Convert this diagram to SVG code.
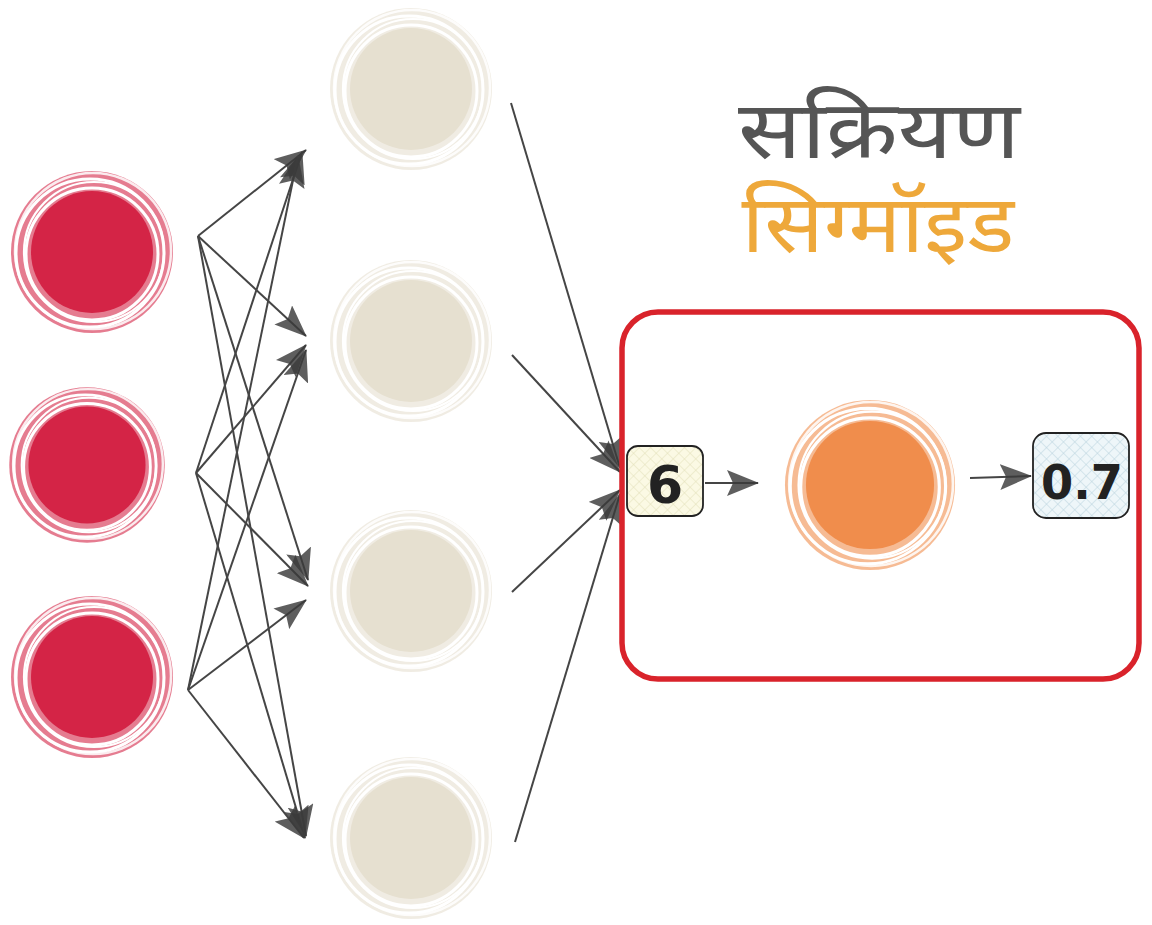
<svg xmlns="http://www.w3.org/2000/svg" xmlns:xlink="http://www.w3.org/1999/xlink" width="1152" height="925" viewBox="0 0 1152 925">
<style>
.conn{stroke:#454545;stroke-width:2;fill:none;marker-end:url(#ah);}
.title{font-family:"Noto Sans","Noto Sans Devanagari","DejaVu Sans",sans-serif;text-anchor:middle;}
.num{font-family:"DejaVu Sans","Liberation Sans",sans-serif;font-weight:bold;fill:#222;text-anchor:middle;}
.box{stroke:#222;stroke-width:1.8;}
</style>
<defs>
<marker id="ah" viewBox="0 0 32 26" refX="31" refY="13" markerWidth="32" markerHeight="26" markerUnits="userSpaceOnUse" orient="auto">
<path d="M0,0 L32,13 L0,26 L6,13 z" fill="#3a3a3a" fill-opacity="0.82"/>
</marker>
<pattern id="hatchY" width="8" height="8" patternUnits="userSpaceOnUse" patternTransform="rotate(45)">
<rect width="8" height="8" fill="#fbf9e4"/>
<path d="M0,0 L0,8 M0,0 L8,0" stroke="#e2dfb8" stroke-width="1"/>
</pattern>
<pattern id="hatchB" width="8" height="8" patternUnits="userSpaceOnUse" patternTransform="rotate(45)">
<rect width="8" height="8" fill="#eef6f9"/>
<path d="M0,0 L0,8 M0,0 L8,0" stroke="#b9d3de" stroke-width="1"/>
</pattern>
<g id="ring">
<circle r="81" fill="currentColor" opacity="0.6"/>
<circle cx="1" cy="-1" r="78" fill="none" stroke="#fff" stroke-width="2.5" opacity="0.85"/>
<circle cx="-2" cy="1" r="74" fill="none" stroke="#fff" stroke-width="3"/>
<circle cx="2" cy="0" r="70" fill="none" stroke="#fff" stroke-width="2.2"/>
<circle cx="0" cy="2" r="66" fill="none" stroke="#fff" stroke-width="3"/>
<circle r="61" fill="currentColor"/>
</g>
</defs>
<rect width="1152" height="925" fill="#ffffff"/>

<g id="connectors">
<line class="conn" x1="198" y1="236" x2="306" y2="150"/>
<line class="conn" x1="198" y1="236" x2="306" y2="336"/>
<line class="conn" x1="198" y1="236" x2="308" y2="580"/>
<line class="conn" x1="198" y1="236" x2="306" y2="836"/>
<line class="conn" x1="196" y1="473" x2="302" y2="152"/>
<line class="conn" x1="196" y1="473" x2="306" y2="345"/>
<line class="conn" x1="196" y1="473" x2="308" y2="586"/>
<line class="conn" x1="196" y1="473" x2="305" y2="838"/>
<line class="conn" x1="188" y1="690" x2="298" y2="156"/>
<line class="conn" x1="188" y1="690" x2="306" y2="350"/>
<line class="conn" x1="188" y1="690" x2="306" y2="600"/>
<line class="conn" x1="188" y1="690" x2="304" y2="838"/>
<line class="conn" x1="511" y1="103" x2="620" y2="468"/>
<line class="conn" x1="512" y1="355" x2="620" y2="472"/>
<line class="conn" x1="512" y1="592" x2="620" y2="490"/>
<line class="conn" x1="515" y1="842" x2="620" y2="494"/>
<line class="conn" x1="705" y1="483" x2="758" y2="483"/>
<line class="conn" x1="970" y1="478" x2="1031" y2="476"/>
</g>

<g id="input1"><use xlink:href="#ring" href="#ring" x="92" y="252" color="#d42446"/></g>
<g id="input2"><use xlink:href="#ring" href="#ring" x="87" y="465" color="#d42446" transform="translate(87 465) scale(0.96) translate(-87 -465)"/></g>
<g id="input3"><use xlink:href="#ring" href="#ring" x="92" y="677" color="#d42446"/></g>

<g id="hidden1"><use xlink:href="#ring" href="#ring" x="411" y="89" color="#e6e0d0"/></g>
<g id="hidden2"><use xlink:href="#ring" href="#ring" x="411" y="341" color="#e6e0d0"/></g>
<g id="hidden3"><use xlink:href="#ring" href="#ring" x="411" y="591" color="#e6e0d0"/></g>
<g id="hidden4"><use xlink:href="#ring" href="#ring" x="411" y="838" color="#e6e0d0"/></g>

<g id="title">
<text class="title" x="879" y="158" font-size="80" fill="#555555" textLength="282" lengthAdjust="spacingAndGlyphs">सक्रियण</text>
<text class="title" x="878" y="252" font-size="80" fill="#eea83a" textLength="273" lengthAdjust="spacingAndGlyphs">सिग्मॉइड</text>
</g>

<g id="activation-box">
<rect x="622" y="312" width="517" height="367" rx="36" fill="none" stroke="#d9232b" stroke-width="5.5"/>
</g>

<g id="input-value">
<rect class="box" x="627" y="446" width="76" height="70" rx="11" fill="url(#hatchY)"/>
<text class="num" x="665" y="503" font-size="52">6</text>
</g>

<g id="sigmoid-node"><use xlink:href="#ring" href="#ring" x="870" y="485" color="#f08d4c" transform="translate(870 485) scale(1.05) translate(-870 -485)"/></g>

<g id="output-value">
<rect class="box" x="1033" y="433" width="96" height="85" rx="13" fill="url(#hatchB)"/>
<text class="num" x="1082" y="499" font-size="48" textLength="82" lengthAdjust="spacingAndGlyphs">0.7</text>
</g>
</svg>
